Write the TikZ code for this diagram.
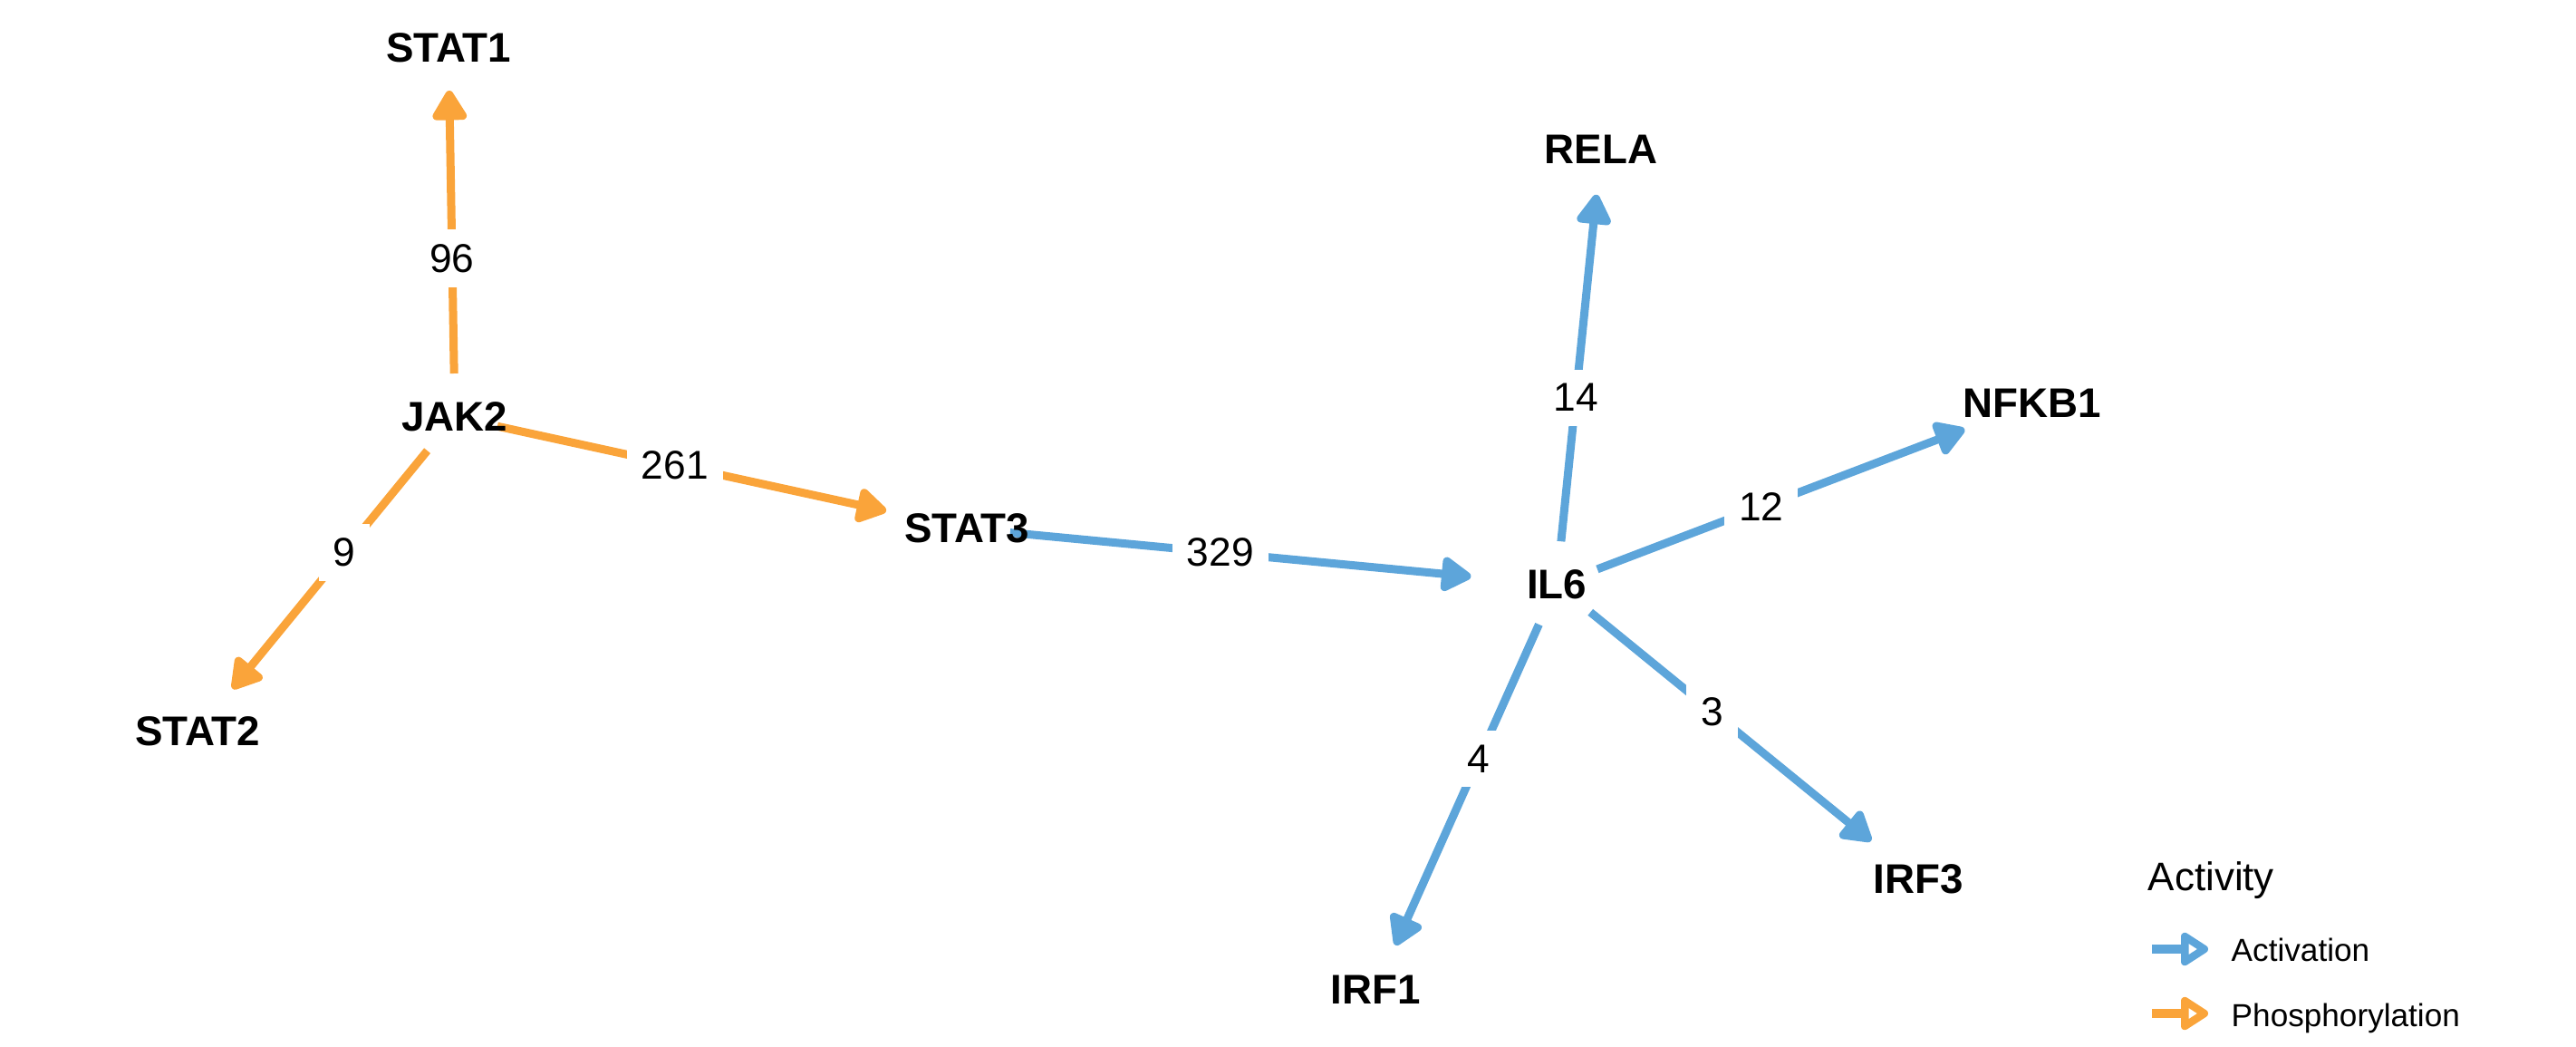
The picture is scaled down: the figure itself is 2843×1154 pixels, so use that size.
\documentclass[tikz,border=0pt]{standalone}
\usepackage{xcolor}
\usepackage{fontspec}
\setmainfont{Liberation Sans}
\usetikzlibrary{arrows.meta,backgrounds}
\definecolor{actblue}{HTML}{5DA5DA}
\definecolor{phosorange}{HTML}{FAA43A}

\begin{document}
\begin{tikzpicture}[x=0.01cm, y=-0.01cm,
	genenode/.style={inner sep=0, font=\fontsize{13}{15}\selectfont\bfseries},
	edgelabel/.style={fill=white, inner sep=4.5pt, pos=0.43, font=\fontsize{12.6}{15}\selectfont},
	actedge/.style={draw=actblue, line width=0.9mm, shorten <=4.8mm, -{Triangle[length=3.7mm,width=4.2mm,round]}},
	phosedge/.style={draw=phosorange, line width=0.9mm, shorten <=4.8mm, -{Triangle[length=3.7mm,width=4.2mm,round]}},
	legendtext/.style={anchor=base west, inner sep=0, font=\fontsize{10}{12}\selectfont},
	legendarrow/.style={line width=1mm, -{Triangle[fill=white,length=3.4mm,width=4.1mm,round]}}]
	\useasboundingbox (0,0) rectangle (2843,1154);

	\node[genenode] (stat1) at (495,53) {STAT1};
	\node[genenode] (jak2) at (502,460) {JAK2};
	\node[genenode] (stat2) at (218,807) {STAT2};
	\node[genenode] (stat3) at (1067,583) {STAT3};
	\node[genenode] (il6) at (1718,645) {IL6};
	\node[genenode] (rela) at (1767,165) {RELA};
	\node[genenode] (nfkb1) at (2243,445) {NFKB1};
	\node[genenode] (irf1) at (1518,1092) {IRF1};
	\node[genenode] (irf3) at (2117,970) {IRF3};

	\begin{pgfonlayer}{background}
		\draw [phosedge, shorten >=4.7mm] (jak2.center) -- node[edgelabel] {96} (stat1.center);
		\draw [phosedge, shorten >=9.1mm] (jak2.center) -- node[edgelabel] {261} (stat3.center);
		\draw [phosedge, shorten >=6.1mm] (jak2.center) -- node[edgelabel] {9} (stat2.center);
		\draw [actedge, shorten >=9.5mm] (stat3.center) -- node[edgelabel] {329} (il6.center);
		\draw [actedge, shorten >=5mm] (il6.center) -- node[edgelabel] {14} (rela.center);
		\draw [actedge, shorten >=8mm] (il6.center) -- node[edgelabel] {12} (nfkb1.center);
		\draw [actedge, shorten >=6.7mm] (il6.center) -- node[edgelabel] {3} (irf3.center);
		\draw [actedge, shorten >=5.4mm] (il6.center) -- node[edgelabel] {4} (irf1.center);
	\end{pgfonlayer}

	% legend
	\node[anchor=base west, inner sep=0, font=\fontsize{12.5}{15}\selectfont] (legtitle) at (2370,982) {Activity};
	\node[legendtext] (legact) at (2462,1060) {Activation};
	\node[legendtext] (legphos) at (2462,1132) {Phosphorylation};
	\coordinate (legact0) at (2375,1047);
	\coordinate (legact1) at (2437,1047);
	\coordinate (legphos0) at (2375,1118);
	\coordinate (legphos1) at (2437,1118);
	\draw [legendarrow, actblue] (legact0) -- (legact1);
	\draw [legendarrow, phosorange] (legphos0) -- (legphos1);
\end{tikzpicture}
\end{document}
